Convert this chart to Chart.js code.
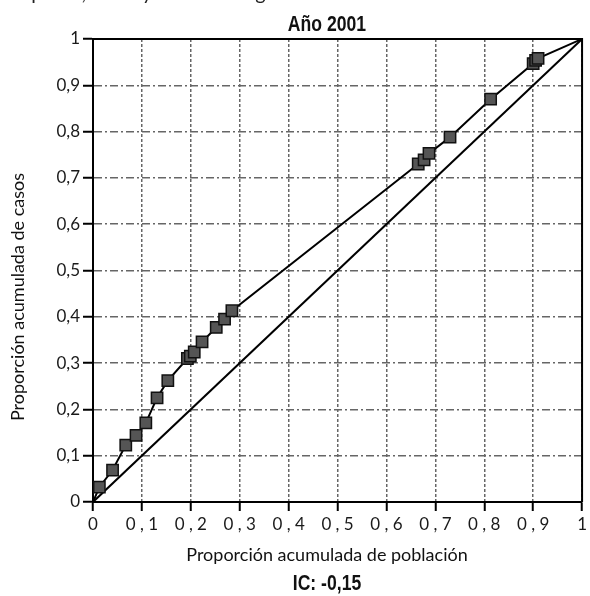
<!DOCTYPE html>
<html lang="es">
<head>
<meta charset="utf-8">
<title>Año 2001</title>
<script src="https://cdn.jsdelivr.net/npm/chart.js@4.4.1/dist/chart.umd.min.js"></script>
<style>
  html, body { margin: 0; padding: 0; background: #fff; overflow: hidden; }
  #wrap { position: relative; width: 590px; height: 596px; }
  #cabecera { position: absolute; left: 12px; top: -20px; font: 20px Lato, sans-serif; color: #222; white-space: nowrap; }
  canvas { display: block; }
</style>
</head>
<body>
<div id="wrap">
  <div id="cabecera">espacial, 2001 y 2010 en Argentina.</div>
  <canvas id="grafico" width="590" height="596"></canvas>
</div>
<script>
// Curva de concentración (proporciones acumuladas)
const poblacion = [0, 0.013, 0.040, 0.067, 0.088, 0.108, 0.131, 0.153, 0.193, 0.199, 0.207, 0.223, 0.252, 0.269, 0.284,
  0.665, 0.677, 0.687, 0.730, 0.813, 0.900, 0.905, 0.910, 1];
const casos = [0, 0.032, 0.069, 0.123, 0.144, 0.171, 0.225, 0.262, 0.310, 0.315, 0.324, 0.346, 0.377, 0.395, 0.413,
  0.730, 0.739, 0.753, 0.788, 0.870, 0.947, 0.954, 0.958, 1];
// Línea de igualdad
const igualdad = [0, 1];

const etiquetasX = ['0', '0 , 1', '0 , 2', '0 , 3', '0 , 4', '0 , 5', '0 , 6', '0 , 7', '0 , 8', '0 , 9', '1'];
const etiquetasY = ['0', '0,1', '0,2', '0,3', '0,4', '0,5', '0,6', '0,7', '0,8', '0,9', '1'];

const TITULO = 'Año 2001';
const TITULO_X = 'Proporción acumulada de población';
const TITULO_Y = 'Proporción acumulada de casos';
const INDICE = 'IC: -0,15';

const fuenteTicks = { family: 'Lato, sans-serif', size: 17 };

// texto en negrita "estrechado" (no hay fuente condensada instalada)
function textoEstrecho(ctx, txt, x, y) {
  ctx.save();
  ctx.translate(x, y);
  ctx.scale(0.8, 1);
  ctx.fillText(txt, 0, 0);
  ctx.restore();
}

// textos y marco superior/derecho
const rotulos = {
  id: 'rotulos',
  afterDraw(chart) {
    const { ctx, chartArea: a } = chart;
    ctx.save();
    ctx.strokeStyle = '#000';
    ctx.lineWidth = 2;
    ctx.beginPath();
    ctx.moveTo(a.left, a.top);
    ctx.lineTo(a.right, a.top);
    ctx.lineTo(a.right, a.bottom);
    ctx.stroke();

    ctx.fillStyle = '#111';
    ctx.textAlign = 'center';
    ctx.textBaseline = 'middle';
    ctx.font = 'bold 22px "Liberation Sans", sans-serif';
    textoEstrecho(ctx, TITULO, 327, 25);
    textoEstrecho(ctx, INDICE, 327, 584);
    ctx.font = '18px Lato, sans-serif';
    ctx.fillText(TITULO_X, 327, 555);
    ctx.translate(18, 297);
    ctx.rotate(-Math.PI / 2);
    ctx.fillText(TITULO_Y, 0, 0);
    ctx.restore();
  }
};

new Chart(document.getElementById('grafico'), {
  type: 'scatter',
  data: {
    datasets: [
      {
        data: poblacion.map((x, i) => ({ x, y: casos[i] })),
        showLine: true,
        borderColor: '#000',
        borderWidth: 2,
        tension: 0,
        pointStyle: 'rect',
        pointRadius: poblacion.map((x, i) => (i === 0 || i === poblacion.length - 1) ? 0 : 8),
        pointBackgroundColor: '#555',
        pointBorderColor: '#111',
        pointBorderWidth: 1.5
      },
      {
        data: igualdad.map(v => ({ x: v, y: v })),
        showLine: true,
        borderColor: '#000',
        borderWidth: 2,
        pointRadius: 0
      }
    ]
  },
  options: {
    responsive: false,
    animation: false,
    layout: { padding: { top: 39, right: 5, left: 0, bottom: 0 } },
    plugins: { legend: { display: false }, tooltip: { enabled: false } },
    scales: {
      x: {
        type: 'linear',
        min: 0, max: 1,
        afterFit(s) { s.height = 94; },
        ticks: {
          stepSize: 0.1,
          padding: 3,
          color: '#1a1a1a',
          font: fuenteTicks,
          maxRotation: 0,
          autoSkip: false,
          callback: (v, i) => etiquetasX[i]
        },
        grid: { color: '#666', lineWidth: 1.5, tickLength: 9, tickColor: '#000', tickWidth: 2, tickBorderDash: [] },
        border: { color: '#000', width: 2, dash: [3, 2] }
      },
      y: {
        min: 0, max: 1,
        afterFit(s) { s.width = 93; },
        ticks: {
          stepSize: 0.1,
          padding: 3,
          color: '#1a1a1a',
          font: fuenteTicks,
          autoSkip: false,
          callback: (v, i) => etiquetasY[i]
        },
        grid: { color: '#666', lineWidth: 1.5, tickLength: 10, tickColor: '#000', tickWidth: 2, tickBorderDash: [] },
        border: { color: '#000', width: 2, dash: [8, 3, 2, 3] }
      }
    }
  },
  plugins: [rotulos]
});
</script>
</body>
</html>
